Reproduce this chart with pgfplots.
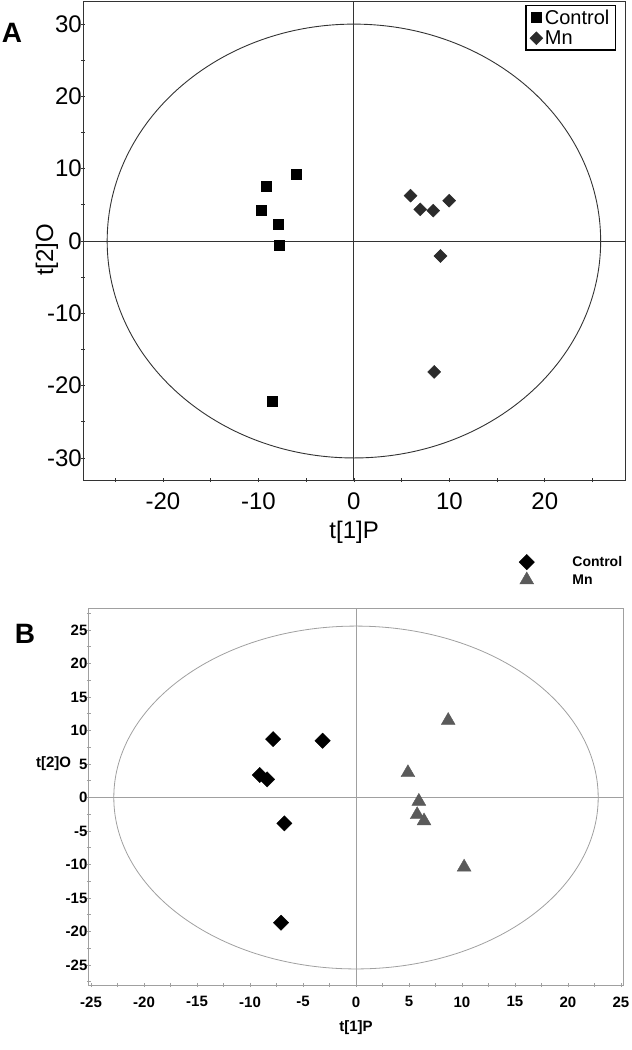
\documentclass[border=0pt]{standalone}
\usepackage{fontspec}
\setmainfont{Liberation Sans}
\usepackage{pgfplots}
\pgfplotsset{compat=1.18}
\definecolor{agray}{HTML}{333333}
\definecolor{dia}{HTML}{2B2B2B}
\definecolor{bgray}{HTML}{A0A0A0}
\definecolor{tri}{HTML}{5A5A5A}
\begin{document}
\begin{tikzpicture}
\path[use as bounding box] (0,0) rectangle (632pt,-1050pt);
% ---------------- Panel A ----------------
\begin{axis}[
  scale only axis, width=541.7pt, height=478.3pt,
  at={(83.3pt,-1.7pt)}, anchor=north west,
  xmin=-28.35, xmax=28.4, ymin=-33.05, ymax=33.1,
  xtick={-20,-10,0,10,20}, ytick={-30,-20,...,30},
  minor xtick={-25,-15,-5,5,15,25}, minor ytick={-25,-15,-5,5,15,25},
  tick align=center, major tick length=4pt, minor tick length=4pt,
  xtick pos=bottom, ytick pos=left,
  axis line style={agray, line width=1pt},
  every tick/.style={agray, line width=0.8pt},
  /pgf/number format/assume math mode=true,
  tick label style={font=\fontsize{24}{24}\selectfont},
  xticklabel style={yshift=-7pt},
  yticklabel style={xshift=4pt},
  xlabel={t[1]P}, ylabel={t[2]O},
  label style={font=\fontsize{24}{24}\selectfont},
  xlabel style={at={(axis description cs:0.5,0)}, anchor=center, yshift=-52pt},
  ylabel style={at={(axis description cs:-0.067,0.481)}, anchor=center},
  legend style={at={(0.9834,0.9931)}, anchor=north east, draw=black, line width=1.3pt,
    font=\fontsize{20}{20}\selectfont, inner xsep=4pt, inner ysep=2pt, row sep=1pt},
  legend cell align=left,
  legend image code/.code={\draw[#1] plot coordinates {(0pt,0pt)};},
  clip=false,
]
\draw[agray, line width=0.9pt] (axis cs:0,-33.05) -- (axis cs:0,33.1);
\draw[agray, line width=0.9pt] (axis cs:-28.35,0) -- (axis cs:28.4,0);
\draw[agray, line width=0.9pt] (axis cs:0,0) ellipse [x radius=25.85, y radius=30];
\addplot[only marks, mark=square*, mark size=5pt, mark options={fill=black, draw=black, line width=0.4pt}]
  coordinates {(-6.0,9.27) (-9.21,7.65) (-9.67,4.24) (-7.89,2.39) (-7.78,-0.55) (-8.55,-22.1)};
\addlegendentry{Control}
\addplot[only marks, mark=square*, mark size=4.6pt, mark options={rotate=45, fill=dia, draw=dia, line width=0.4pt}]
  coordinates {(5.93,6.27) (6.95,4.38) (8.31,4.2) (9.98,5.58) (9.07,-2.07) (8.41,-18.1)};
\addlegendentry{Mn}
\end{axis}
\node[font=\bfseries\fontsize{28}{28}\selectfont] at (12pt,-33pt) {A};
% ---------------- Panel B ----------------
\begin{axis}[
  scale only axis, width=534.2pt, height=377pt,
  at={(88.9pt,-608pt)}, anchor=north west,
  xmin=-25.2, xmax=25.2, ymin=-28, ymax=28.3,
  xtick={-25,-20,...,25}, ytick={-25,-20,...,25},
  minor xtick={-22.5,-17.5,...,22.5}, minor ytick={-27.5,-22.5,...,27.5},
  tick align=center, major tick length=4pt, minor tick length=4pt,
  xtick pos=bottom, ytick pos=left,
  axis line style={bgray, line width=0.8pt},
  every tick/.style={bgray, line width=0.7pt},
  /pgf/number format/assume math mode=true,
  tick label style={font=\bfseries\fontsize{15}{15}\selectfont},
  xticklabel style={yshift=-6pt},
  yticklabel style={xshift=4pt},
  xlabel={t[1]P}, ylabel={t[2]O},
  label style={font=\bfseries\fontsize{15}{15}\selectfont},
  xlabel style={at={(axis description cs:0.5,0)}, anchor=center, yshift=-43pt},
  ylabel style={at={(axis description cs:-0.066,0.5875)}, anchor=center, rotate=-90},
  legend style={at={(0.805,1.143)}, anchor=north west, draw=none, fill=none,
    font=\bfseries\fontsize{14}{14}\selectfont, inner sep=0pt, row sep=2pt,
    /tikz/every odd column/.append style={column sep=36pt}},
  legend cell align=left,
  legend image code/.code={\draw[#1] plot coordinates {(0pt,0pt)};},
  clip=false,
]
\draw[bgray, line width=0.8pt] (axis cs:0,-28) -- (axis cs:0,28.3);
\draw[bgray, line width=0.8pt] (axis cs:-25.2,0) -- (axis cs:25.2,0);
\draw[bgray, line width=0.8pt] (axis cs:0,0) ellipse [x radius=22.85, y radius=25.6];
\addplot[only marks, mark=square*, mark size=5.4pt, mark options={rotate=45, fill=black, draw=black, line width=0.4pt}]
  coordinates {(-7.82,8.73) (-3.15,8.48) (-9.08,3.36) (-8.39,2.71) (-6.76,-3.86) (-7.07,-18.7)};
\addlegendentry{Control}
\addplot[only marks, mark=triangle*, mark size=8pt, mark options={fill=tri, draw=tri, line width=0.4pt}]
  coordinates {(8.7,11.5) (4.9,3.7) (5.93,-0.57) (5.77,-2.57) (6.42,-3.5) (10.2,-10.4)};
\addlegendentry{Mn}
\end{axis}
\node[font=\bfseries\fontsize{28}{28}\selectfont] at (25pt,-634pt) {B};
\end{tikzpicture}
\end{document}
